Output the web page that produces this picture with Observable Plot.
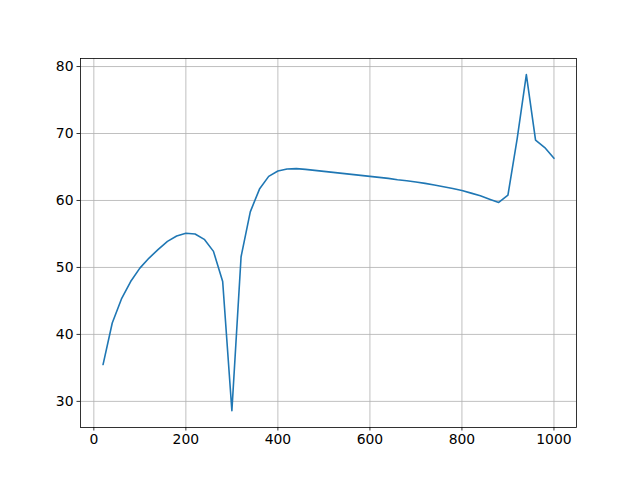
<!DOCTYPE html>
<html>
<head>
<meta charset="utf-8">
<script src="https://cdn.jsdelivr.net/npm/d3@7"></script>
<script src="https://cdn.jsdelivr.net/npm/@observablehq/plot@0.6"></script>
<style>
  html, body { margin: 0; padding: 0; background: #fff; }
</style>
</head>
<body>
<div id="chart"></div>
<script>
const xValues = [20, 40, 60, 80, 100, 120, 140, 160, 180, 200,
                 220, 240, 260, 280, 300, 320, 340, 360, 380, 400,
                 420, 440, 460, 480, 500, 520, 540, 560, 580, 600,
                 620, 640, 660, 680, 700, 720, 740, 760, 780, 800,
                 820, 840, 860, 880, 900, 920, 940, 960, 980, 1000];
const yValues = [35.5, 41.7, 45.3, 47.9, 49.9, 51.4, 52.7, 53.9, 54.7, 55.1,
                 55.0, 54.2, 52.4, 47.9, 28.6, 51.6, 58.3, 61.7, 63.6, 64.4,
                 64.7, 64.75, 64.65, 64.5, 64.35, 64.2, 64.05, 63.9, 63.75, 63.6,
                 63.45, 63.3, 63.1, 62.95, 62.75, 62.55, 62.3, 62.05, 61.8, 61.5,
                 61.1, 60.7, 60.2, 59.7, 60.8, 69.2, 78.8, 69.0, 67.9, 66.3];
const xTicks = [0, 200, 400, 600, 800, 1000];
const yTicks = [30, 40, 50, 60, 70, 80];

const data = xValues.map((x, i) => ({x, y: yValues[i]}));

const chart = Plot.plot({
  width: 640,
  height: 480,
  marginLeft: 80,
  marginRight: 64,
  marginTop: 58,
  marginBottom: 53,
  style: {fontFamily: "DejaVu Sans", fontSize: "13.9px", background: "#fff", color: "#000"},
  x: {domain: [-29, 1049], ticks: xTicks, tickFormat: d3.format("d")},
  y: {domain: [26.1, 81.2], ticks: yTicks, tickFormat: d3.format("d")},
  marks: [
    Plot.gridX(xTicks, {stroke: "#b0b0b0", strokeOpacity: 1, strokeWidth: 0.8}),
    Plot.gridY(yTicks, {stroke: "#b0b0b0", strokeOpacity: 1, strokeWidth: 0.8}),
    Plot.line(data, {x: "x", y: "y", stroke: "#1f77b4", strokeWidth: 1.6}),
    Plot.frame({stroke: "#000", strokeWidth: 0.8}),
    Plot.axisX(xTicks, {tickSize: 3.5, tickPadding: 3.5, strokeWidth: 0.8, label: null, fill: "#000", tickFormat: d3.format("d")}),
    Plot.axisY(yTicks, {tickSize: 3.5, tickPadding: 3.5, strokeWidth: 0.8, label: null, fill: "#000", tickFormat: d3.format("d")})
  ]
});
document.getElementById("chart").appendChild(chart);
</script>
</body>
</html>
